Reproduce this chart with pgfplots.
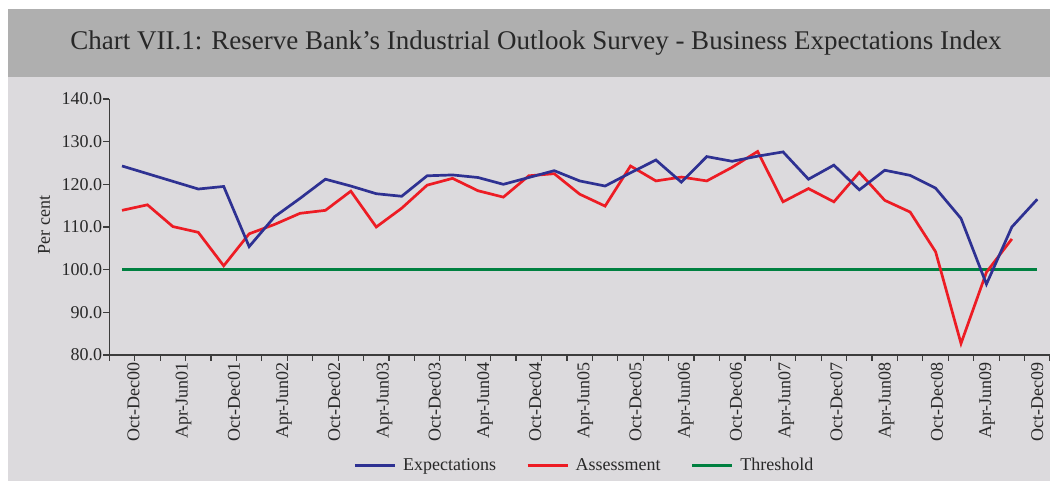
\documentclass[border=0pt]{standalone}
\usepackage{pgfplots}
\pgfplotsset{compat=1.18}
\usepackage{fontspec}
\setmainfont{Liberation Serif}
\definecolor{expblue}{RGB}{46,49,146}
\definecolor{assred}{RGB}{237,28,36}
\definecolor{thrgreen}{RGB}{0,128,64}
\definecolor{bgc}{RGB}{220,218,221}
\definecolor{titlebg}{RGB}{175,175,175}
\definecolor{axc}{RGB}{60,60,60}
\definecolor{txt}{RGB}{40,40,40}
\begin{document}
\begin{tikzpicture}[x=1pt,y=1pt]
\fill[white] (0,0) rectangle (1050,481);
\fill[bgc] (8,0) rectangle (1050,404);
\fill[titlebg] (8,404) rectangle (1050,472);
\node[text=txt, font=\fontsize{27}{30}\selectfont] at (536,438) {Chart VII.1: Reserve Bank's Industrial Outlook Survey - Business Expectations Index};
\begin{axis}[
  at={(109.3pt,126pt)}, anchor=south west,
  scale only axis, width=940.7pt, height=256pt,
  xmin=-0.5, xmax=36.5, ymin=80, ymax=140,
  axis x line*=bottom, axis y line*=left,
  axis line style={-, draw=axc, line width=1.3pt},
  tick align=outside,
  ytick={80,90,...,140},
  major tick length=6pt,
  minor tick length=6pt,
  xtick={0.45,2.425,4.4,6.375,8.35,10.325,12.3,14.275,16.25,18.225,20.2,22.175,24.15,26.125,28.1,30.075,32.05,34.025,36},
  xticklabels={Oct-Dec00,Apr-Jun01,Oct-Dec01,Apr-Jun02,Oct-Dec02,Apr-Jun03,Oct-Dec03,Apr-Jun04,Oct-Dec04,Apr-Jun05,Oct-Dec05,Apr-Jun06,Oct-Dec06,Apr-Jun07,Oct-Dec07,Apr-Jun08,Oct-Dec08,Apr-Jun09,Oct-Dec09},
  minor xtick={-0.5,0.5,...,36.5},
  major x tick style={draw=none},
  minor x tick style={draw=axc, line width=1.2pt},
  ytick style={draw=axc, line width=1.2pt},
  xticklabel style={rotate=90, anchor=east, font=\fontsize{18}{20}\selectfont, text=txt, inner sep=1pt},
  yticklabel style={font=\fontsize{18}{20}\selectfont, text=txt, inner sep=1pt},
  /pgf/number format/assume math mode=true,
  yticklabel={\pgfmathprintnumber[fixed,fixed zerofill,precision=1]{\tick}},
  ylabel={Per cent},
  ylabel style={at={(axis description cs:-0.0694,0.508)}, anchor=center, font=\fontsize{18}{20}\selectfont, text=txt},
  legend style={at={(axis description cs:0.505,-0.43)}, anchor=center, draw=none, fill=none,
    legend columns=3, font=\fontsize{18}{20}\selectfont, text=txt,
    /tikz/every even column/.append style={column sep=28pt}},
  legend image code/.code={\draw[#1, line width=3pt] (0pt,0pt) -- (40pt,0pt); \path (46pt,0pt);},
  clip=false,
]
\addlegendimage{expblue}
\addlegendentry{Expectations}
\addlegendimage{assred}
\addlegendentry{Assessment}
\addlegendimage{thrgreen}
\addlegendentry{Threshold}
\addplot[thrgreen, line width=3.2pt, forget plot] coordinates {(0,100) (36,100)};
\addplot[assred, line width=2.7pt, forget plot] coordinates {
(0,113.9) (1,115.2) (2,110.1) (3,108.75) (4,100.9) (5,108.4) (6,110.6) (7,113.2) (8,113.9) (9,118.4)
(10,110.0) (11,114.4) (12,119.8) (13,121.4) (14,118.5) (15,117.0) (16,122.0) (17,122.5) (18,117.7) (19,114.9)
(20,124.3) (21,120.8) (22,121.7) (23,120.8) (24,124.0) (25,127.7) (26,115.9) (27,119.0) (28,115.9) (29,122.8)
(30,116.25) (31,113.5) (32,104.2) (33,82.7) (34,99.4) (35,107.2)};
\addplot[expblue, line width=2.7pt, forget plot] coordinates {
(0,124.3) (1,122.5) (2,120.7) (3,118.9) (4,119.5) (5,105.4) (6,112.4) (7,116.7) (8,121.2) (9,119.6)
(10,117.8) (11,117.2) (12,122.0) (13,122.2) (14,121.6) (15,120.0) (16,121.6) (17,123.2) (18,120.8) (19,119.6)
(20,122.7) (21,125.7) (22,120.5) (23,126.5) (24,125.4) (25,126.6) (26,127.6) (27,121.2) (28,124.5) (29,118.7)
(30,123.3) (31,122.1) (32,119.1) (33,112.0) (34,96.6) (35,110.0) (36,116.5)};
\end{axis}
\pgfresetboundingbox
\useasboundingbox (0,0) rectangle (1050,481);
\end{tikzpicture}
\end{document}
